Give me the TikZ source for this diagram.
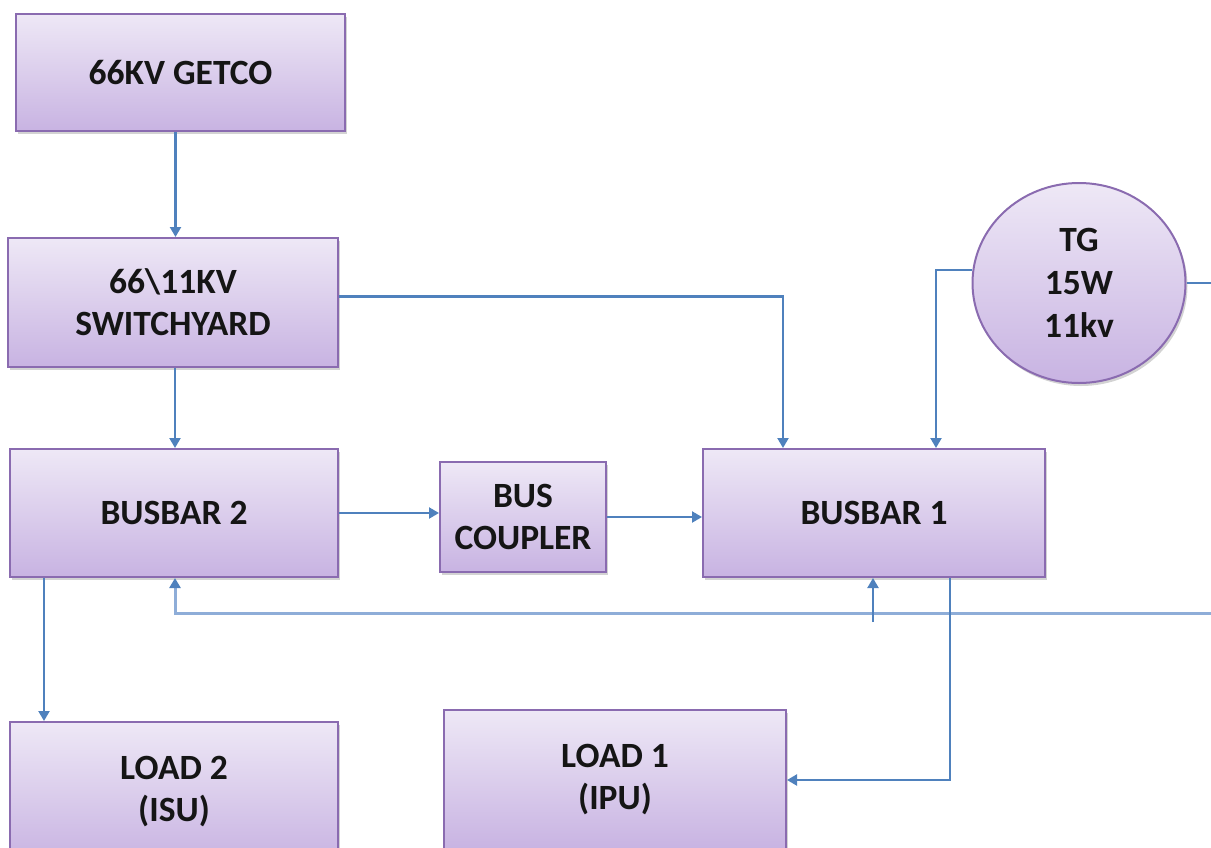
\documentclass[tikz,border=0pt]{standalone}
\usepackage{fontspec}
\setmainfont{Carlito}
\usetikzlibrary{arrows.meta,shadows,calc,shapes.geometric}
\definecolor{boxtop}{HTML}{EEE8F6}
\definecolor{boxbot}{HTML}{C8B3E2}
\definecolor{boxline}{HTML}{8A6BB0}
\definecolor{wire}{HTML}{4F81BD}
\definecolor{wirelight}{HTML}{8EADD8}
\definecolor{txt}{HTML}{151515}
\tikzset{
  box/.style={rectangle, draw=boxline, line width=2pt, top color=boxtop, bottom color=boxbot,
    drop shadow={opacity=0.35, shadow xshift=2pt, shadow yshift=-3pt},
    align=center, text=txt, font=\bfseries\fontsize{35.5}{42}\selectfont, inner sep=0pt},
  gen/.style={ellipse, draw=boxline, line width=2pt, top color=boxtop, bottom color=boxbot,
    drop shadow={opacity=0.35, shadow xshift=2pt, shadow yshift=-3pt},
    align=center, text=txt, font=\bfseries\fontsize{35.5}{43}\selectfont, inner sep=0pt,
    minimum width=213pt, minimum height=200pt},
  conn/.style={draw=wire, line width=2.2pt, -{Triangle[width=11pt,length=10pt]}},
  connlight/.style={draw=wirelight, line width=3pt, -{Triangle[width=11pt,length=10pt,fill=wire,color=wire]}},
  wireplain/.style={draw=wire, line width=2.2pt}
}
\begin{document}
\begin{tikzpicture}[x=1pt,y=-1pt]
\useasboundingbox (0,0) rectangle (1211,847);
\clip (0,0) rectangle (1211,847);
\node[box, minimum width=329pt, minimum height=117pt] (getco) at (180.5,72.5) {66KV GETCO};
\node[box, minimum width=330pt, minimum height=129pt] (sw) at (173,302.5) {66\textbackslash11KV\\SWITCHYARD};
\node[box, minimum width=328pt, minimum height=128pt] (bb2) at (174,513) {BUSBAR 2};
\node[box, minimum width=166pt, minimum height=110pt] (bc) at (523,517) {BUS\\COUPLER};
\node[box, minimum width=342pt, minimum height=128pt] (bb1) at (874,513) {BUSBAR 1};
\node[gen] (tg) at (1079,283) {TG\\15W\\11kv};
\node[box, minimum width=328pt, minimum height=140pt] (load2) at (174,792) {LOAD 2\\(ISU)};
\node[box, minimum width=342pt, minimum height=140pt] (load1) at (615,780) {LOAD 1\\(IPU)};
\coordinate (tgout) at (1211,283);
\coordinate (fbin) at (1211,613);
\coordinate (fbstub) at (873,622);

\draw[conn] ([xshift=-5pt]getco.south) -- ([xshift=-5pt]getco.south |- sw.north);
\draw[conn] ([xshift=2pt]sw.south) -- ([xshift=2pt]sw.south |- bb2.north);
\draw[conn] ([yshift=6pt]sw.east) -| ([xshift=-91pt]bb1.north);
\draw[conn] (tg.173) -| ([xshift=62pt]bb1.north);
\draw[wireplain] (tg.east) -- (tgout);
\draw[conn] (bb2.east) -- (bb2.east -| bc.west);
\draw[conn] (bc.east) -- (bc.east -| bb1.west);
\draw[connlight] (fbin) -| ([xshift=1pt]bb2.south);
\draw[conn] (fbstub) -- (fbstub |- bb1.south);
\draw[conn] ([xshift=76pt]bb1.south) |- (load1.east);
\draw[conn] ([xshift=-130pt]bb2.south) -- ([xshift=-130pt]bb2.south |- load2.north);
\end{tikzpicture}
\end{document}
